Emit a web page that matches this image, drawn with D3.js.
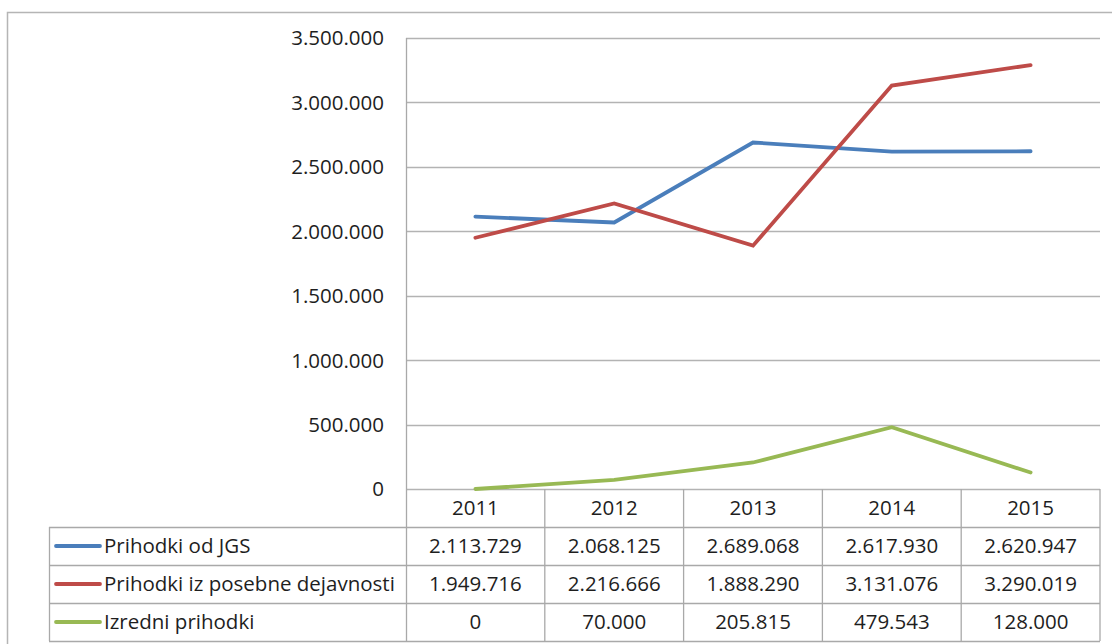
<!DOCTYPE html>
<html>
<head>
<meta charset="utf-8">
<script src="https://cdn.jsdelivr.net/npm/d3@7"></script>
<style>
  body { margin: 0; background: #fff; }
  svg text { font-family: "Open Sans", "Noto Sans", sans-serif; fill: #1e1e1e; }
</style>
</head>
<body>
<div id="chart"></div>
<script>
// data
var years = ["2011", "2012", "2013", "2014", "2015"];
var seriesNames = ["Prihodki od JGS", "Prihodki iz posebne dejavnosti", "Izredni prihodki"];
var jgs = [2113729, 2068125, 2689068, 2617930, 2620947];
var posebne = [1949716, 2216666, 1888290, 3131076, 3290019];
var izredni = [0, 70000, 205815, 479543, 128000];
var colors = ["#4a7ebb", "#be4b48", "#98b954"];
var yTicks = [0, 500000, 1000000, 1500000, 2000000, 2500000, 3000000, 3500000];

var series = [jgs, posebne, izredni];

var W = 1112, H = 644;
var plotL = 406, plotR = 1100, plotT = 38, plotB = 489;
var rowH = 38, tableL = 49;
var fs = "20.5px";

var fmt = function(v){
    // slovenian style thousands separator
    return d3.format(",")(v).replace(/,/g, ".");
};

var svg = d3.select("#chart").append("svg")
    .attr("width", W).attr("height", H);

// outer chart border
svg.append("path")
    .attr("d", "M7.5," + H + "V12.5H" + W)
    .attr("fill", "none").attr("stroke", "#b5b5b5").attr("stroke-width", 1.5);

var x = d3.scaleBand().domain(years).range([plotL, plotR]);
var y = d3.scaleLinear().domain([0, 3500000]).range([plotB, plotT]);

// gridlines
svg.append("g").selectAll("line")
    .data(yTicks)
    .enter().append("line")
    .attr("x1", plotL).attr("x2", plotR)
    .attr("y1", d => Math.round(y(d)) + 0.5).attr("y2", d => Math.round(y(d)) + 0.5)
    .attr("stroke", "#b3b3b3").attr("stroke-width", 1.3);

// y axis labels
svg.append("g").selectAll("text")
    .data(yTicks)
    .enter().append("text")
    .attr("x", 384).attr("y", d => y(d))
    .attr("dy", "0.36em")
    .attr("text-anchor", "end")
    .style("font-size", fs)
    .text(d => fmt(d));

// table lines
var tableLines = svg.append("g").attr("stroke", "#a9a9a9").attr("stroke-width", 1.3).attr("fill", "none");
// vertical axis line through table
tableLines.append("line")
    .attr("x1", plotL + 0.5).attr("x2", plotL + 0.5)
    .attr("y1", plotT).attr("y2", plotB + rowH * 4);
// column separators in table
years.forEach(function(yr, i){
    var xx = x(yr) + x.bandwidth();
    tableLines.append("line")
        .attr("x1", xx).attr("x2", xx)
        .attr("y1", plotB).attr("y2", plotB + rowH * 4);
});
// row lines
[1, 2, 3, 4].forEach(function(r){
    tableLines.append("line")
        .attr("x1", tableL).attr("x2", plotR)
        .attr("y1", plotB + rowH * r + 0.5).attr("y2", plotB + rowH * r + 0.5);
});
tableLines.append("line")
    .attr("x1", tableL + 0.5).attr("x2", tableL + 0.5)
    .attr("y1", plotB + rowH).attr("y2", plotB + rowH * 4);

// year header
svg.append("g").selectAll("text")
    .data(years)
    .enter().append("text")
    .attr("x", d => x(d) + x.bandwidth() / 2)
    .attr("y", plotB + rowH / 2)
    .attr("dy", "0.36em")
    .attr("text-anchor", "middle")
    .style("font-size", fs)
    .text(d => d);

// table rows
series.forEach(function(vals, si){
    var rowY = plotB + rowH * (si + 1) + rowH / 2;
    svg.append("line")
        .attr("x1", 56).attr("x2", 100)
        .attr("y1", rowY).attr("y2", rowY)
        .attr("stroke", colors[si]).attr("stroke-width", 3.8)
        .attr("stroke-linecap", "round");
    svg.append("text")
        .attr("x", 104).attr("y", rowY)
        .attr("dy", "0.36em")
        .style("font-size", fs)
        .text(seriesNames[si]);
    svg.append("g").selectAll("text")
        .data(vals)
        .enter().append("text")
        .attr("x", (d, i) => x(years[i]) + x.bandwidth() / 2)
        .attr("y", rowY)
        .attr("dy", "0.36em")
        .attr("text-anchor", "middle")
        .style("font-size", fs)
        .text(d => fmt(d));
});

// lines
var line = d3.line()
    .x((d, i) => x(years[i]) + x.bandwidth() / 2)
    .y(d => y(d));

svg.append("g").selectAll("path")
    .data(series)
    .enter().append("path")
    .attr("d", d => line(d))
    .attr("fill", "none")
    .attr("stroke", (d, i) => colors[i])
    .attr("stroke-width", 3.8)
    .attr("stroke-linecap", "round")
    .attr("stroke-linejoin", "miter");
</script>
</body>
</html>
